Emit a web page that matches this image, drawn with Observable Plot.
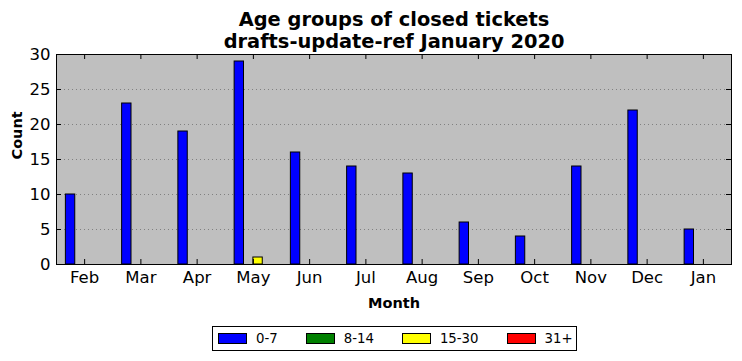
<!DOCTYPE html>
<html><head><meta charset="utf-8">
<script src="https://cdn.jsdelivr.net/npm/d3@7"></script>
<script src="https://cdn.jsdelivr.net/npm/@observablehq/plot@0.6"></script>
<style>
body{margin:0;background:#fff;font-family:"DejaVu Sans",sans-serif;}
#wrap{position:relative;width:742px;height:361px;}
#legend{position:absolute;left:212px;top:326px;border:1px solid #000;background:#fff;display:flex;align-items:center;padding:0 0 0 5px;font-size:13.3px;color:#000;box-sizing:border-box;width:365px;height:25px;white-space:nowrap;}
.item{display:flex;align-items:center;margin-right:28px;white-space:nowrap;flex:none;}
.item:last-child{margin-right:0;}
.sw{width:27px;height:9px;border:1px solid #000;margin-right:9px;flex:none;}
</style></head><body><div id="wrap"></div>
<script>
const title1 = "Age groups of closed tickets";
const title2 = "drafts-update-ref January 2020";
const months = ["Feb","Mar","Apr","May","Jun","Jul","Aug","Sep","Oct","Nov","Dec","Jan"];
const groups = ["0-7","8-14","15-30","31+"];
const colors = ["#0000ff","#008000","#ffff00","#ff0000"];
const v0_7   = [10,23,19,29,16,14,13,6,4,14,22,5];
const v8_14  = [0,0,0,0,0,0,0,0,0,0,0,0];
const v15_30 = [0,0,0,1,0,0,0,0,0,0,0,0];
const v31    = [0,0,0,0,0,0,0,0,0,0,0,0];
const yTicks = [0,5,10,15,20,25,30];

const series = [v0_7, v8_14, v15_30, v31];
const data = [];
series.forEach((vals, k) => vals.forEach((v, i) => {
  data.push({group: groups[k], value: v, x1: i + (1 + k) / 6, x2: i + (2 + k) / 6});
}));
const xTicks = months.map((m, i) => i + 0.5);

const W = 742, H = 361, mt = 54, mb = 97, ml = 56, mr = 11;
const fw = W - ml - mr, fh = H - mt - mb;

const chart = Plot.plot({
  width: W, height: H, marginTop: mt, marginBottom: mb, marginLeft: ml, marginRight: mr,
  style: {fontFamily: "DejaVu Sans", fontSize: "16px", background: "transparent", overflow: "visible", color: "#000"},
  x: {domain: [0, 12], label: null},
  y: {domain: [0, 30], label: null},
  color: {domain: groups, range: colors},
  marks: [
    Plot.frame({fill: "#bfbfbf"}),
    Plot.gridY(yTicks.slice(1, -1), {stroke: "#808080", strokeOpacity: 1, strokeDasharray: "1,3"}),
    Plot.rectY(data.filter(d => d.value > 0), {x1: "x1", x2: "x2", y: "value", fill: "group", stroke: "black", strokeWidth: 1}),
    Plot.tickX(xTicks, {x: d => d, insetBottom: fh - 5, stroke: "black"}),
    Plot.tickX(xTicks, {x: d => d, insetTop: fh - 5, stroke: "black"}),
    Plot.tickY(yTicks, {y: d => d, insetRight: fw - 5, stroke: "black"}),
    Plot.tickY(yTicks, {y: d => d, insetLeft: fw - 5, stroke: "black"}),
    Plot.frame({stroke: "black", strokeWidth: 1}),
    Plot.axisX(xTicks, {anchor: "bottom", tickSize: 0, tickPadding: 7, tickFormat: d => months[Math.floor(d)], fontSize: 16.5, label: null}),
    Plot.axisY(yTicks, {anchor: "left", tickSize: 0, tickPadding: 6, fontSize: 16.5, label: null}),
    Plot.text([title1], {frameAnchor: "top", lineAnchor: "middle", dy: -35, fontSize: 19.4, fontWeight: "bold"}),
    Plot.text([title2], {frameAnchor: "top", lineAnchor: "middle", dy: -13, fontSize: 19.4, fontWeight: "bold"}),
    Plot.text(["Month"], {frameAnchor: "bottom", lineAnchor: "middle", dy: 39, fontSize: 14.5, fontWeight: "bold"}),
    Plot.text(["Count"], {frameAnchor: "left", dx: -39, rotate: -90, fontSize: 14.5, fontWeight: "bold"})
  ]
});
const wrap = document.getElementById("wrap");
wrap.appendChild(chart);

const legend = document.createElement("div");
legend.id = "legend";
groups.forEach((g, k) => {
  const it = document.createElement("div"); it.className = "item";
  const sw = document.createElement("div"); sw.className = "sw"; sw.style.background = colors[k];
  const lb = document.createElement("span"); lb.textContent = g;
  it.appendChild(sw); it.appendChild(lb); legend.appendChild(it);
});
wrap.appendChild(legend);
</script></body></html>
